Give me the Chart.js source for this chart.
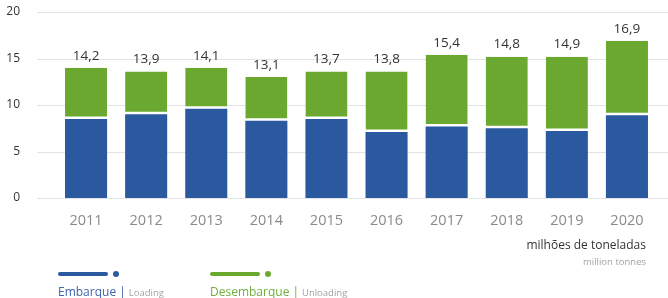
<!DOCTYPE html>
<html>
<head>
<meta charset="utf-8">
<script src="https://cdn.jsdelivr.net/npm/chart.js@4.4.1/dist/chart.umd.min.js"></script>
<style>
    body { margin: 0; background: #fff; font-family: 'Open Sans', sans-serif; }
    #wrap { position: relative; width: 668px; height: 298px; overflow: hidden; }
    #chart { position: absolute; left: 0; top: 0; }
    .unit { position: absolute; right: 22px; text-align: right; white-space: nowrap; }
    .unit.pt { top: 236px; font-size: 12px; color: #333; }
    .unit.en { top: 255px; font-size: 9.5px; color: #a3a3a3; }
    .leg { position: absolute; top: 268px; }
    .leg .bar { position: absolute; top: 4px; height: 4px; width: 50px; border-radius: 2px; }
    .leg .dot { position: absolute; top: 3px; left: 55px; width: 6px; height: 6px; border-radius: 3px; }
    .leg .txt { position: absolute; top: 15px; left: 0; white-space: nowrap; font-size: 12px; }
    .leg .txt .sep { margin: 0 3px 0 3px; }
    .leg .txt small { font-size: 9.5px; color: #a3a3a3; }
</style>
</head>
<body>
<div id="wrap">
    <canvas id="chart" width="668" height="298"></canvas>
    <div class="unit pt">milhões de toneladas</div>
    <div class="unit en">million tonnes</div>
    <div class="leg" style="left:58px">
        <div class="bar" style="background:#2b59a0"></div>
        <div class="dot" style="background:#2b59a0"></div>
        <div class="txt" style="color:#3d64aa">Embarque<span class="sep">|</span><small>Loading</small></div>
    </div>
    <div class="leg" style="left:210px">
        <div class="bar" style="background:#6aa830"></div>
        <div class="dot" style="background:#6aa830"></div>
        <div class="txt" style="color:#70ae3c">Desembarque<span class="sep">|</span><small>Unloading</small></div>
    </div>
</div>
<script>
// Data (million tonnes)
const years = ['2011', '2012', '2013', '2014', '2015', '2016', '2017', '2018', '2019', '2020'];
const loading = [8.5, 9.0, 9.6, 8.3, 8.5, 7.1, 7.7, 7.5, 7.2, 8.9];
const unloading = [5.5, 4.6, 4.4, 4.7, 5.1, 6.5, 7.7, 7.7, 8.0, 8.0];
const totals = ['14,2', '13,9', '14,1', '13,1', '13,7', '13,8', '15,4', '14,8', '14,9', '16,9'];
const yTicks = [0, 5, 10, 15, 20];

const blue = '#2b59a0';
const green = '#6aa830';

// horizontal grid lines running from the tick labels to the right edge
const gridLines = {
    id: 'gridLines',
    beforeDatasetsDraw(chart) {
        const ctx = chart.ctx;
        const y = chart.scales.y;
        ctx.save();
        ctx.strokeStyle = '#e3e3e3';
        ctx.lineWidth = 1.2;
        yTicks.forEach(function (v) {
            const py = Math.round(y.getPixelForValue(v)) + 0.5;
            ctx.beginPath();
            ctx.moveTo(37, py);
            ctx.lineTo(chart.width, py);
            ctx.stroke();
        });
        ctx.restore();
    }
};

// total value above each stack
const totalLabels = {
    id: 'totalLabels',
    afterDatasetsDraw(chart) {
        const ctx = chart.ctx;
        const meta = chart.getDatasetMeta(1);
        ctx.save();
        ctx.font = '13.5px "Open Sans"';
        ctx.fillStyle = '#333';
        ctx.textAlign = 'center';
        ctx.textBaseline = 'middle';
        meta.data.forEach(function (bar, i) {
            ctx.fillText(totals[i], bar.x, bar.y - 12);
        });
        ctx.restore();
    }
};

new Chart(document.getElementById('chart'), {
    type: 'bar',
    data: {
        labels: years,
        datasets: [
            {
                label: 'Embarque',
                data: loading,
                backgroundColor: blue,
                borderWidth: 0
            },
            {
                label: 'Desembarque',
                data: unloading,
                backgroundColor: green,
                borderColor: '#ffffff',
                borderWidth: { top: 0, left: 0, right: 0, bottom: 2.5 },
                borderSkipped: false
            }
        ]
    },
    options: {
        responsive: false,
        animation: false,
        layout: { padding: { top: 12, right: 11, bottom: 60, left: 0 } },
        datasets: { bar: { categoryPercentage: 1, barPercentage: 0.7 } },
        plugins: {
            legend: { display: false },
            tooltip: { enabled: false }
        },
        scales: {
            x: {
                stacked: true,
                grid: { display: false, drawTicks: true, tickLength: 14 },
                border: { display: false },
                ticks: {
                    padding: 0,
                    color: '#8a8a8a',
                    font: { family: 'Open Sans', size: 14.5 }
                },
                afterFit(scale) { scale.height = 40; }
            },
            y: {
                stacked: true,
                min: 0,
                max: 20,
                afterBuildTicks(scale) {
                    scale.ticks = yTicks.map(function (v) { return { value: v }; });
                },
                grid: { display: false, drawTicks: true, tickLength: 36 },
                border: { display: false },
                ticks: {
                    padding: 0,
                    color: '#333',
                    font: { family: 'Open Sans', size: 12 }
                },
                afterFit(scale) { scale.width = 56; }
            }
        }
    },
    plugins: [gridLines, totalLabels]
});
</script>
</body>
</html>
